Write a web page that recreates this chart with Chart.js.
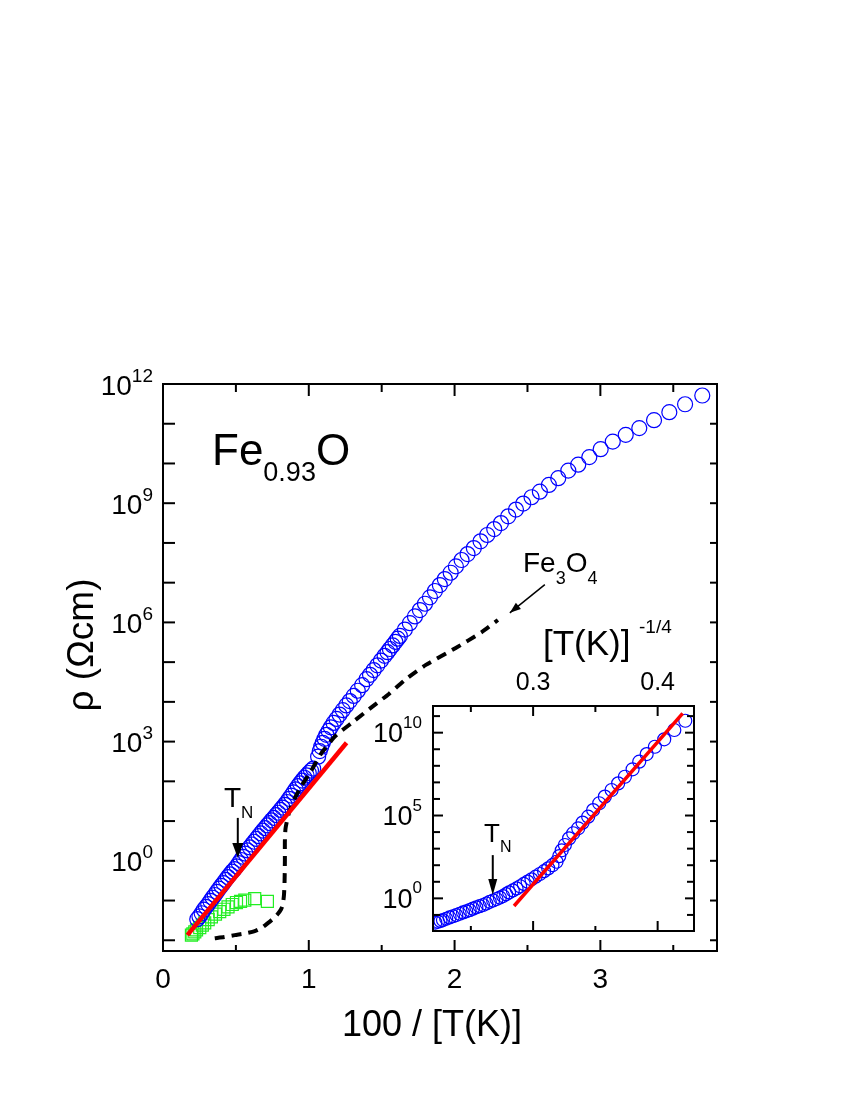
<!DOCTYPE html>
<html><head><meta charset="utf-8">
<script src="https://cdn.jsdelivr.net/npm/chart.js@4.4.1/dist/chart.umd.min.js"></script>
<style>
html,body{margin:0;padding:0;background:#fff;}
#wrap{position:relative;width:850px;height:1100px;}
canvas{position:absolute;left:0;top:0;}
</style></head><body>
<div id="wrap"><canvas id="main" width="850" height="1100"></canvas><canvas id="inset" width="850" height="1100"></canvas></div>
<script>
// ---------------- DATA ----------------
// Main panel: x = 100/T(K), y = log10(rho / Ohm cm)
const feoX = [0.235,0.250,0.265,0.280,0.295,0.310,0.325,0.340,0.355,0.370,0.385,0.400,0.415,0.430,0.445,0.460,0.475,0.490,0.505,0.520,0.535,0.550,0.565,0.580,0.595,0.610,0.625,0.640,0.655,0.670,0.685,0.700,0.715,0.730,0.745,0.760,0.775,0.790,0.805,0.820,0.835,0.850,0.865,0.880,0.895,0.910,0.925,0.940,0.955,0.970,0.985,1.000,1.015,1.030,
  1.064,1.075,1.085,1.096,1.108,1.121,1.136,1.151,1.170,1.190,1.211,1.233,1.257,1.281,1.308,1.336,1.366,1.396,1.420,1.445,1.470,1.495,1.520,1.540,1.556,1.575,1.594,1.610,1.625,
  1.659,1.693,1.728,1.762,1.797,1.831,1.865,1.899,1.933,1.973,2.009,2.048,2.089,2.132,2.178,2.224,2.272,2.318,2.368,2.421,2.471,2.528,2.585,2.647,2.711,2.780,2.848,2.924,3.002,3.085,3.174,3.267,3.368,3.473,3.581,3.699];
const feoLogRho = [-1.47,-1.40,-1.32,-1.23,-1.16,-1.09,-1.01,-0.93,-0.86,-0.78,-0.70,-0.63,-0.56,-0.48,-0.41,-0.34,-0.27,-0.21,-0.14,-0.06,0.02,0.10,0.18,0.26,0.34,0.41,0.48,0.55,0.62,0.69,0.76,0.82,0.89,0.95,1.02,1.08,1.15,1.21,1.28,1.34,1.41,1.48,1.56,1.64,1.72,1.80,1.88,1.95,2.02,2.09,2.15,2.21,2.27,2.32,
  2.62,2.76,2.87,2.97,3.07,3.17,3.27,3.36,3.47,3.57,3.68,3.79,3.91,4.02,4.15,4.28,4.42,4.57,4.68,4.80,4.92,5.04,5.16,5.25,5.33,5.42,5.51,5.59,5.66,
  5.82,5.98,6.15,6.31,6.47,6.63,6.79,6.94,7.09,7.25,7.41,7.57,7.72,7.87,8.04,8.20,8.35,8.50,8.67,8.84,8.99,9.15,9.29,9.46,9.63,9.82,9.97,10.16,10.36,10.55,10.72,10.89,11.09,11.29,11.49,11.71];

const greenX = [0.195,0.205,0.218,0.230,0.252,0.270,0.286,0.310,0.332,0.360,0.389,0.418,0.446,0.475,0.504,0.532,0.561,0.629,0.716];
const greenLogRho = [-1.87,-1.84,-1.79,-1.74,-1.68,-1.62,-1.56,-1.48,-1.41,-1.34,-1.28,-1.22,-1.16,-1.10,-1.05,-1.02,-0.99,-0.95,-1.02];

const fitX = [0.167, 1.259];
const fitLogRho = [-1.87, 2.97];

const fe3o4X = [0.355,0.420,0.492,0.560,0.629,0.680,0.719,0.755,0.787,0.810,0.822,0.830,0.834,0.836,0.836,0.840,0.850,0.870,0.905,0.949,1.014,1.089,1.185,1.305,1.443,1.550,1.659,1.803,2.005,2.184,2.297];
const fe3o4LogRho = [-1.95,-1.92,-1.87,-1.83,-1.77,-1.68,-1.57,-1.46,-1.34,-1.22,-1.10,-0.85,-0.50,0.00,0.50,0.80,1.00,1.28,1.58,1.88,2.25,2.72,3.15,3.50,3.90,4.20,4.55,4.93,5.35,5.75,6.06];

// Inset: x = T^(-1/4), y = log10(rho)
const insetX = [0.2215,0.2236,0.2256,0.2276,0.2302,0.2329,0.2356,0.2383,0.2410,0.2437,0.2463,0.2490,0.2517,0.2544,0.2571,0.2598,0.2625,0.2652,0.2679,0.2706,0.2733,0.2759,0.2783,0.2807,0.2837,0.2867,0.2896,0.2925,0.2956,0.2987,0.3020,0.3054,0.3088,0.3121,0.3155,0.3188,0.3210,0.3230,0.3255,0.3289,0.3322,0.3362,0.3397,0.3442,0.3482,0.3531,0.3576,0.3630,0.3683,0.3737,0.3799,0.3852,0.3912,0.3978,0.4053,0.4134,0.4222];
const insetLogRho = [-1.46,-1.41,-1.36,-1.31,-1.23,-1.15,-1.08,-1.01,-0.93,-0.85,-0.78,-0.71,-0.62,-0.54,-0.47,-0.40,-0.31,-0.21,-0.13,-0.04,0.05,0.14,0.25,0.36,0.48,0.60,0.73,0.87,1.01,1.15,1.31,1.47,1.64,1.81,2.00,2.21,2.55,2.90,3.22,3.62,3.93,4.23,4.57,4.93,5.33,5.74,6.14,6.54,6.94,7.34,7.79,8.25,8.71,9.15,9.60,10.16,10.72];
const insetFitX = [0.2847, 0.4201];
const insetFitLogRho = [-0.46, 11.17];

// Axis ticks / labels
const mainXRange = [0, 3.8];
const mainYExpRange = [-2.27, 12];
const mainXTicks = [0.5,1,1.5,2,2.5,3,3.5];
const mainXLabels = [0,1,2,3];
const mainYTickExps = [-2,-1,0,1,2,3,4,5,6,7,8,9,10,11];
const mainYLabelExps = [0,3,6,9,12];
const insetXRange = [0.2196, 0.4292];
const insetYExpRange = [-1.97, 11.61];
const insetXTicks = [0.25,0.3,0.35,0.4];
const insetXLabels = ['0.3','0.4'];
const insetYTickExps = [-1,0,1,2,3,4,5,6,7,8,9,10,11];
const insetYLabelExps = [0,5,10];

// Annotation anchors in data units
const tnMain = {x:0.513, from:1.08, to:0.07};
const tnInset = {x:0.2676, from:2.61, to:0.20};
const fe3o4Arrow = {x1:2.619, y1:6.95, x2:2.379, y2:6.24};

// ---------------- helpers ----------------
const FONT = '"Liberation Sans", Arial, Helvetica, sans-serif';
const pts = (xs, ls) => xs.map((x,i)=>({x:x, y:Math.pow(10, ls[i])}));
function setFont(ctx, s){ ctx.font = s + 'px ' + FONT; }
function line(ctx,x1,y1,x2,y2){ ctx.beginPath(); ctx.moveTo(x1,y1); ctx.lineTo(x2,y2); ctx.stroke(); }
function pow10(ctx, e, right, cy, base, sup, dyB, dyS){
  setFont(ctx, sup); const ws = ctx.measureText(String(e)).width;
  setFont(ctx, base); const wb = ctx.measureText('10').width;
  ctx.textAlign='left'; ctx.textBaseline='alphabetic';
  ctx.fillText('10', right - ws - wb, cy + dyB);
  setFont(ctx, sup); ctx.fillText(String(e), right - ws, cy + dyS);
}
function rich(ctx, x, y, parts){ // parts: [text,size,dy]
  ctx.textAlign='left'; ctx.textBaseline='alphabetic';
  let cx = x;
  for (const [t,s,dy] of parts){ setFont(ctx,s); ctx.fillText(t, cx, y+dy); cx += ctx.measureText(t).width; }
}
function arrowHead(ctx, x1,y1,x2,y2, len, wid){
  const a = Math.atan2(y2-y1, x2-x1);
  ctx.beginPath();
  ctx.moveTo(x2,y2);
  ctx.lineTo(x2 - len*Math.cos(a) + wid/2*Math.sin(a), y2 - len*Math.sin(a) - wid/2*Math.cos(a));
  ctx.lineTo(x2 - len*Math.cos(a) - wid/2*Math.sin(a), y2 - len*Math.sin(a) + wid/2*Math.cos(a));
  ctx.closePath(); ctx.fill();
}

// ---------------- main chart ----------------
const mainDeco = {
  id:'mainDeco',
  afterDraw(chart){
    const ctx = chart.ctx, a = chart.chartArea, x = chart.scales.x, y = chart.scales.y;
    ctx.save();
    ctx.strokeStyle='#000'; ctx.fillStyle='#000'; ctx.lineWidth=2; ctx.lineCap='butt';
    ctx.strokeRect(a.left, a.top, a.right-a.left, a.bottom-a.top);
    for (const e of mainYTickExps){
      const py = y.getPixelForValue(Math.pow(10,e));
      line(ctx, a.left, py, a.left+12, py);
      line(ctx, a.right, py, a.right-7, py);
    }
    for (const t of mainXTicks){
      const px = x.getPixelForValue(t), maj = Number.isInteger(t);
      line(ctx, px, a.bottom, px, a.bottom-(maj?11:6));
      line(ctx, px, a.top, px, a.top+(maj?12:8));
    }
    for (const e of mainYLabelExps){
      pow10(ctx, e, a.left-10, y.getPixelForValue(Math.pow(10,e)), 28, 19, 10.5, -2.5);
    }
    setFont(ctx, 28); ctx.textAlign='center'; ctx.textBaseline='alphabetic';
    for (const t of mainXLabels){ ctx.fillText(String(t), x.getPixelForValue(t), a.bottom+37); }
    // axis titles
    setFont(ctx, 36); ctx.textAlign='center';
    ctx.fillText('100 / [T(K)]', 432, 1036);
    ctx.save(); ctx.translate(93, 645); ctx.rotate(-Math.PI/2);
    setFont(ctx, 37); ctx.fillText('ρ (Ωcm)', 0, 0); ctx.restore();
    // labels
    rich(ctx, 212, 465, [['Fe',44,0],['0.93',27,16],['O',44,0]]);
    rich(ctx, 523, 572, [['Fe',28,0],['3',18,12],['O',28,0],['4',18,12]]);
    rich(ctx, 224, 807, [['T',28,0],['N',17,11]]);
    // T_N arrow
    const tx = x.getPixelForValue(tnMain.x), ty1 = y.getPixelForValue(Math.pow(10,tnMain.from)), ty2 = y.getPixelForValue(Math.pow(10,tnMain.to));
    ctx.lineWidth = 2; line(ctx, tx, ty1, tx, ty2-10); arrowHead(ctx, tx, ty1, tx, ty2, 15, 11);
    // Fe3O4 arrow
    const ax1 = x.getPixelForValue(fe3o4Arrow.x1), ay1 = y.getPixelForValue(Math.pow(10,fe3o4Arrow.y1));
    const ax2 = x.getPixelForValue(fe3o4Arrow.x2), ay2 = y.getPixelForValue(Math.pow(10,fe3o4Arrow.y2));
    ctx.lineWidth = 1.5; line(ctx, ax1, ay1, ax2, ay2); arrowHead(ctx, ax1, ay1, ax2, ay2, 11, 8);
    ctx.restore();
  }
};

new Chart(document.getElementById('main'), {
  type:'scatter',
  data:{ datasets:[
    {label:'fit', data:pts(fitX, fitLogRho), showLine:true, borderColor:'#ff0000', borderWidth:4.5, pointRadius:0, order:0},
    {label:'Fe3O4', data:pts(fe3o4X, fe3o4LogRho), showLine:true, borderColor:'#000', borderWidth:4, borderDash:[10,7], pointRadius:0, tension:0.2, order:1},
    {label:'Fe0.93O', data:pts(feoX, feoLogRho), pointStyle:'circle', pointRadius:7.5, borderColor:'#0000ff', pointBorderColor:'#0000ff', pointBackgroundColor:'rgba(0,0,0,0)', pointBorderWidth:1.2, order:2},
    {label:'other', data:pts(greenX, greenLogRho), pointStyle:'rect', pointRadius:8.5, pointBorderColor:'#22ee22', pointBackgroundColor:'rgba(0,0,0,0)', pointBorderWidth:1.2, order:3}
  ]},
  options:{
    responsive:false, animation:false, devicePixelRatio:1, events:[],
    layout:{padding:{left:163, top:384, right:133, bottom:149}},
    plugins:{legend:{display:false}, tooltip:{enabled:false}},
    scales:{
      x:{type:'linear', min:mainXRange[0], max:mainXRange[1], display:false},
      y:{type:'logarithmic', min:Math.pow(10,mainYExpRange[0]), max:Math.pow(10,mainYExpRange[1]), display:false}
    }
  },
  plugins:[mainDeco]
});

// ---------------- inset chart ----------------
const insetDeco = {
  id:'insetDeco',
  beforeDraw(chart){
    const ctx = chart.ctx, a = chart.chartArea;
    ctx.save(); ctx.fillStyle='#fff'; ctx.fillRect(a.left, a.top, a.right-a.left, a.bottom-a.top); ctx.restore();
  },
  afterDraw(chart){
    const ctx = chart.ctx, a = chart.chartArea, x = chart.scales.x, y = chart.scales.y;
    ctx.save();
    ctx.strokeStyle='#000'; ctx.fillStyle='#000'; ctx.lineWidth=2;
    ctx.strokeRect(a.left, a.top, a.right-a.left, a.bottom-a.top);
    for (const e of insetYTickExps){
      const py = y.getPixelForValue(Math.pow(10,e)), maj = insetYLabelExps.includes(e);
      line(ctx, a.left, py, a.left+(maj?10:7), py);
      line(ctx, a.right, py, a.right-(maj?9:7), py);
    }
    for (const t of insetXTicks){
      const px = x.getPixelForValue(t), maj = Math.abs(t*10-Math.round(t*10))<1e-6;
      line(ctx, px, a.bottom, px, a.bottom-(maj?10:5));
      line(ctx, px, a.top, px, a.top+(maj?10:6));
    }
    for (const e of insetYLabelExps){
      pow10(ctx, e, a.left-11, y.getPixelForValue(Math.pow(10,e)), 27, 17, 9.5, -5);
    }
    setFont(ctx, 25); ctx.textAlign='center'; ctx.textBaseline='alphabetic';
    for (const t of insetXLabels){ ctx.fillText(t, x.getPixelForValue(parseFloat(t)), a.top-16); }
    rich(ctx, 543, 655, [['[T(K)]',35,0]]);
    rich(ctx, 639, 633, [['-1/4',19,0]]);
    rich(ctx, 484, 842, [['T',26,0],['N',16,10]]);
    const tx = x.getPixelForValue(tnInset.x), ty1 = y.getPixelForValue(Math.pow(10,tnInset.from)), ty2 = y.getPixelForValue(Math.pow(10,tnInset.to));
    ctx.lineWidth = 2; line(ctx, tx, ty1, tx, ty2-10); arrowHead(ctx, tx, ty1, tx, ty2, 16, 9);
    ctx.restore();
  }
};

new Chart(document.getElementById('inset'), {
  type:'scatter',
  data:{ datasets:[
    {label:'VRH fit', data:pts(insetFitX, insetFitLogRho), showLine:true, borderColor:'#ff0000', borderWidth:3.5, pointRadius:0, order:0, clip:0},
    {label:'Fe0.93O', data:pts(insetX, insetLogRho), pointStyle:'circle', pointRadius:6.5, pointBorderColor:'#0000ff', pointBackgroundColor:'rgba(0,0,0,0)', pointBorderWidth:1.2, order:1, clip:0}
  ]},
  options:{
    responsive:false, animation:false, devicePixelRatio:1, events:[],
    layout:{padding:{left:433, top:706, right:156, bottom:169}},
    plugins:{legend:{display:false}, tooltip:{enabled:false}},
    scales:{
      x:{type:'linear', min:insetXRange[0], max:insetXRange[1], display:false},
      y:{type:'logarithmic', min:Math.pow(10,insetYExpRange[0]), max:Math.pow(10,insetYExpRange[1]), display:false}
    }
  },
  plugins:[insetDeco]
});
</script>
</body></html>
